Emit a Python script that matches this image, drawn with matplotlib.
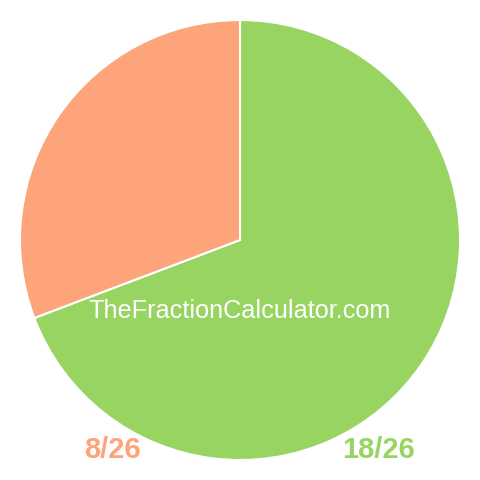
import matplotlib.pyplot as plt

labels = ["18/26", "8/26"]
values = [18, 8]
colors = ["#98d462", "#fda47a"]

fig = plt.figure(figsize=(4.8, 4.8), dpi=100)
ax = fig.add_axes([0, 0, 1, 1])
ax.pie(values, colors=colors, startangle=90, counterclock=False, radius=220,
       wedgeprops=dict(edgecolor="white", linewidth=1.5))
ax.set_xlim(-240, 240)
ax.set_ylim(-240, 240)
ax.set_aspect("equal")
ax.axis("off")

ax.text(0, -71, "TheFractionCalculator.com", color="white", fontsize=18.2,
        family="Liberation Sans", ha="center", va="center")
ax.text(-128, -210, labels[1], color=colors[1], fontsize=21, fontweight="bold",
        family="Liberation Sans", ha="center", va="center")
ax.text(138, -210, labels[0], color=colors[0], fontsize=21, fontweight="bold",
        family="Liberation Sans", ha="center", va="center")

fig.savefig("out.png", dpi=100)
